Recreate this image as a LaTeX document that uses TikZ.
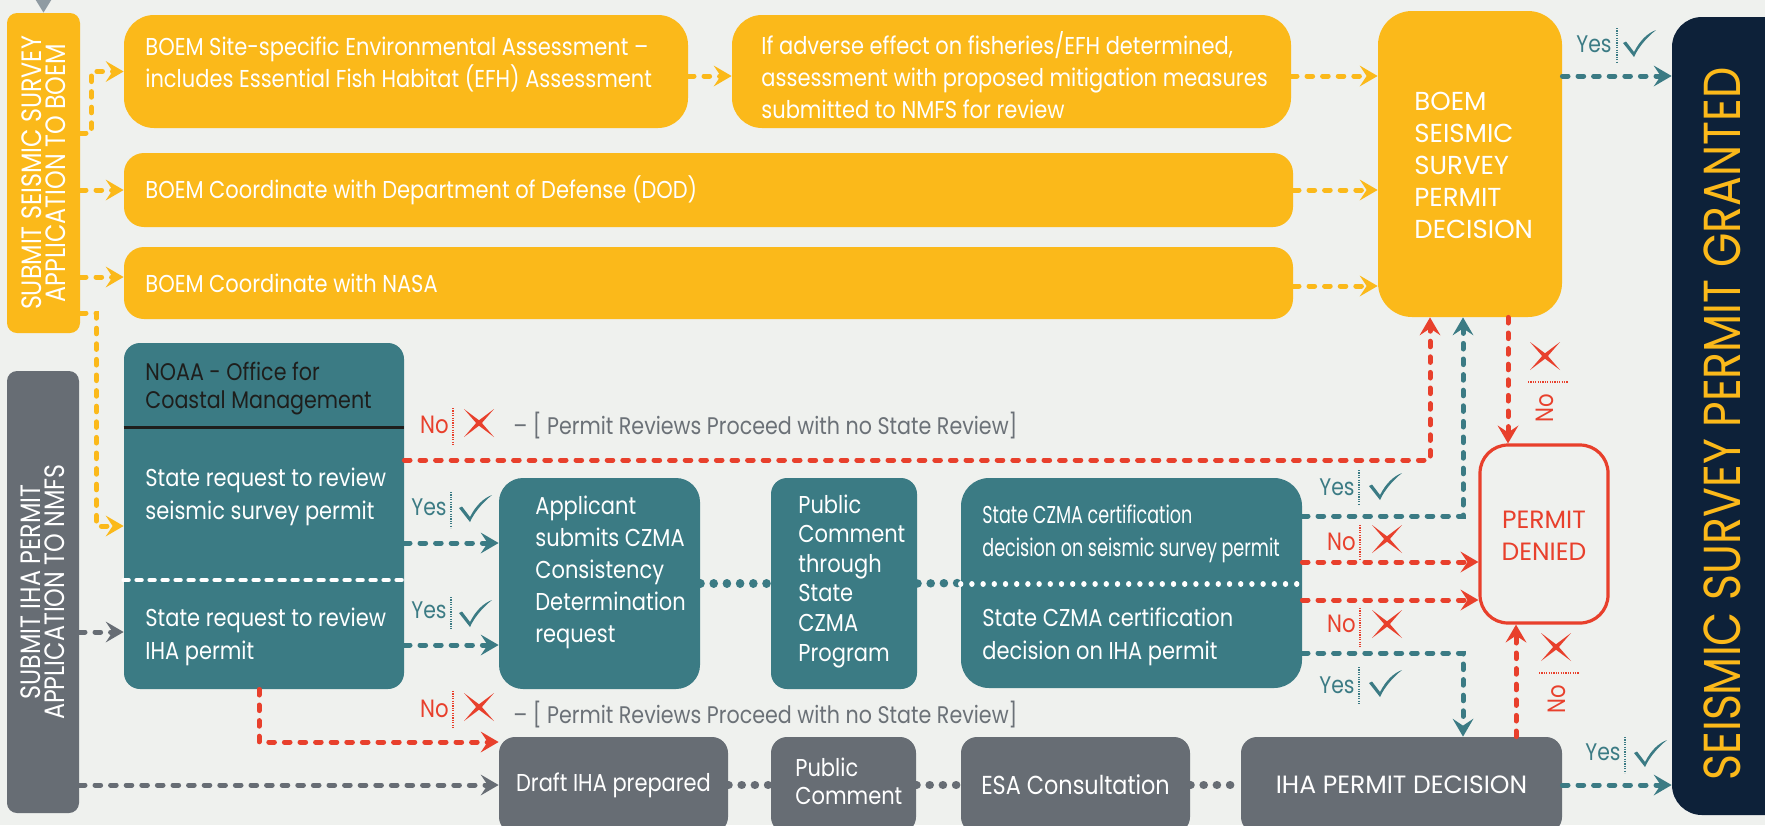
\documentclass[tikz,border=0pt]{standalone}
\usepackage{fontspec}
\setmainfont{Poppins}[FakeStretch=0.86]
\newfontfamily\narrowfont{Poppins}[FakeStretch=0.72]
\newfontfamily\capsfont{Poppins}[FakeStretch=0.85]
\newfontfamily\widefont{Poppins}
\usetikzlibrary{calc}
\usetikzlibrary{fit}
\usetikzlibrary{arrows.meta}

\definecolor{bgcol}{HTML}{EFF1EE}
\definecolor{boemor}{HTML}{FBB91A}
\definecolor{noaateal}{HTML}{3B7B84}
\definecolor{nmfsgray}{HTML}{676D74}
\definecolor{navy}{HTML}{0D2139}
\definecolor{denyred}{HTML}{E8402C}
\definecolor{tipgray}{HTML}{8F9BA2}
\definecolor{notegray}{HTML}{6B7177}
\definecolor{darktxt}{HTML}{1E1E1C}

\tikzset{
  box/.style={inner sep=0pt, draw=none},
  obox/.style={box, fill=boemor},
  tbox/.style={box, fill=noaateal},
  gbox/.style={box, fill=nmfsgray},
  btext/.style={text=white, align=left, inner sep=0pt, font=\fontsize{12.2}{16}\selectfont},
  vcaps/.style={text=white, align=center, inner sep=0pt, rotate=90, font=\capsfont\fontsize{14}{12}\selectfont},
  yeslbl/.style={text=noaateal, inner sep=0pt, font=\capsfont\fontsize{12}{12}\selectfont},
  nolbl/.style={text=denyred, inner sep=0pt, font=\capsfont\fontsize{12.5}{12}\selectfont},
  note/.style={text=notegray, inner sep=0pt, anchor=west, font=\fontsize{12}{14}\selectfont},
  link/.style={line width=2.5pt, dash pattern=on 2.8pt off 5pt, line cap=round},
  oarr/.style={link, boemor, ->},
  tarr/.style={link, noaateal, ->},
  rarr/.style={link, denyred, ->},
  garr/.style={link, nmfsgray, ->},
  dots/.style={line width=4.2pt, dash pattern=on 0.1pt off 6.5pt, line cap=round},
  sepline/.style={line width=0.6pt, dash pattern=on 0.6pt off 0.6pt},
  pics/chk/.style={code={
    \fill (-11,-14) -- (-8,-15.5) -- (0,-5) .. controls (6,-17) and (14,-24) .. (22,-27)
      .. controls (12,-19) and (4,-9) .. (0,0) -- cycle;}},
  pics/xmk/.style={code={
    \fill (-15,-14) -- (1.5,-1.6) -- (15,14) -- (-1.5,1.6) -- cycle;
    \fill (15,-14) -- (1.5,1.6) -- (-15,14) -- (-1.5,-1.6) -- cycle;}},
}

\begin{document}
\begin{tikzpicture}[x=0.5pt, y=-0.5pt,
  >={Stealth[length=9pt, width=10.5pt, inset=3.5pt, line width=0pt]}]
\useasboundingbox (0,0) rectangle (1765,825);
\clip (0,0) rectangle (1765,825);
\fill[bgcol] (0,0) rectangle (1765,825);

% BOEM side
\node[obox, rounded corners=5pt, fit={(7,13) (80,333)}] (subboem) {};
\node[vcaps] (subboemtxt) at (subboem) {SUBMIT SEISMIC SURVEY\\APPLICATION TO BOEM};
\node[obox, rounded corners=15pt, fit={(124,15) (688,128)}] (ea) {};
\node[btext, anchor=west] (eatxt) at (145,64) {BOEM Site-specific Environmental Assessment --\\includes Essential Fish Habitat (EFH) Assessment};
\node[obox, rounded corners=15pt, fit={(732,15) (1291,128)}] (adv) {};
\node[btext, anchor=west] (advtxt) at (761,75) {If adverse effect on fisheries/EFH determined,\\assessment with proposed mitigation measures\\submitted to NMFS for review};
\node[obox, rounded corners=10pt, fit={(124,153) (1293,227)}] (dod) {};
\node[btext, anchor=west] (dodtxt) at (145,190) {BOEM Coordinate with Department of Defense (DOD)};
\node[obox, rounded corners=10pt, fit={(124,247) (1293,319)}] (nasa) {};
\node[btext, anchor=west] (nasatxt) at (145,283) {BOEM Coordinate with NASA};
\node[obox, rounded corners=17pt, fit={(1378,11) (1562,317)}] (boemdec) {};
\node[btext, anchor=west, font=\widefont\fontsize{13}{16}\selectfont] (boemdectxt) at (1414,165) {BOEM\\SEISMIC\\SURVEY\\PERMIT\\DECISION};

% NMFS side
\node[gbox, rounded corners=5pt, fit={(7,371) (79,813)}] (subiha) {};
\node[vcaps] (subihatxt) at (subiha) {SUBMIT IHA PERMIT\\APPLICATION TO NMFS};
\node[tbox, rounded corners=8pt, fit={(124,343) (404,689)}] (noaa) {};
\node[btext, anchor=west, text=darktxt, font=\fontsize{12}{14}\selectfont] (noaahead) at (145,389) {NOAA - Office for\\Coastal Management};
\draw[darktxt, line width=1.5pt] (noaa.west |- 0,427) -- (noaa.east |- 0,427);
\node[btext, anchor=west, font=\fontsize{12.2}{16.5}\selectfont] (noaaseis) at (145,497) {State request to review\\seismic survey permit};
\draw[white, line width=2.2pt, dash pattern=on 2.5pt off 4pt, line cap=round] (noaa.west |- 0,580) -- (noaa.east |- 0,580);
\node[btext, anchor=west, font=\fontsize{12.2}{16.5}\selectfont] (noaaiha) at (145,637) {State request to review\\IHA permit};
\node[tbox, rounded corners=12pt, fit={(499,478) (700,689)}] (appl) {};
\node[btext, anchor=west] (appltxt) at (535,572) {Applicant\\submits CZMA\\Consistency\\Determination\\request};
\node[tbox, rounded corners=8pt, fit={(771,478) (917,689)}] (pubcz) {};
\node[btext, anchor=west, font=\fontsize{12.2}{14.8}\selectfont] (pubcztxt) at (798,581) {Public\\Comment\\through\\State\\CZMA\\Program};
\node[tbox, rounded corners=14pt, fit={(961,478) (1302,688)}] (czma) {};
\node[btext, anchor=west, font=\narrowfont\fontsize{12.2}{16.5}\selectfont] (czmaseis) at (982,534) {State CZMA certification\\decision on seismic survey permit};
\node[btext, anchor=west, font=\fontsize{12.2}{16.5}\selectfont] (czmaiha) at (982,637) {State CZMA certification\\decision on IHA permit};
\node[gbox, rounded corners=8pt, fit={(499,737) (728,833)}] (draft) {};
\node[btext] (drafttxt) at (draft) {Draft IHA prepared};
\node[gbox, rounded corners=8pt, fit={(771,737) (916,833)}] (pubc) {};
\node[btext, anchor=west, font=\fontsize{12.2}{14}\selectfont] (pubctxt) at (795,781) {Public\\Comment};
\node[gbox, rounded corners=8pt, fit={(961,737) (1190,833)}] (esa) {};
\node[btext, font=\fontsize{13}{14}\selectfont] (esatxt) at (esa) {ESA Consultation};
\node[gbox, rounded corners=8pt, fit={(1241,737) (1562,833)}] (ihadec) {};
\node[btext, font=\widefont\fontsize{12.5}{14}\selectfont] (ihadectxt) at (ihadec) {IHA PERMIT DECISION};

% outcomes
\node[box, draw=denyred, line width=1.6pt, rounded corners=14pt, fit={(1480,445) (1608,623)}] (denied) {};
\node[btext, text=denyred, align=center, font=\widefont\fontsize{12.5}{16}\selectfont] (deniedtxt) at (1544,536) {PERMIT\\DENIED};
\node[box, fill=navy, rounded corners=15pt, fit={(1672,17) (1800,815)}] (granted) {};
\node[text=boemor, inner sep=0pt, rotate=90, font=\capsfont\fontsize{26}{26}\selectfont] (grantedtxt) at (1722,424) {SEISMIC SURVEY PERMIT GRANTED};

% connectors
\coordinate (topin) at (43.5,-6);
\draw[tipgray, line width=1pt, -{Triangle[length=6.5pt, width=8pt, line width=0pt]}] (topin) -- (subboem.north);
\draw[oarr] (subboem.east |- 0,133) -- ++(11,0) |- (ea.west);
\draw[oarr] (subboem.east |- dod) -- (dod.west);
\draw[oarr] (subboem.east |- 0,277) -- (nasa.west |- 0,277);
\draw[oarr] (subboem.east |- 0,313) -- ++(16,0) |- (noaa.west |- 0,526);
\draw[oarr] (ea.east |- 0,76) -- (adv.west |- 0,76);
\draw[oarr] (adv.east |- 0,76) -- (boemdec.west |- 0,76);
\draw[oarr] (dod.east) -- (boemdec.west |- dod);
\draw[oarr] (nasa.east |- 0,286) -- (boemdec.west |- 0,286);

\draw[garr] (subiha.east |- 0,632) -- (noaa.west |- 0,632);
\draw[garr] (subiha.east |- draft) -- (draft.west);
\draw[dots, nmfsgray] (draft.east) -- (pubc.west);
\draw[dots, nmfsgray] (pubc.east) -- (esa.west);
\draw[dots, nmfsgray] (esa.east) -- (ihadec.west);

\draw[tarr] (noaa.east |- 0,543) -- (appl.west |- 0,543);
\draw[tarr] (noaa.east |- 0,645) -- (appl.west |- 0,645);
\draw[dots, noaateal] (appl.east) -- (pubcz.west);
\draw[dots, noaateal] (pubcz.east) -- (czma.west);
\draw[white, line width=2.6pt, dash pattern=on 0.1pt off 5.5pt, line cap=round] (czma.west |- 0,584) -- (czma.east |- 0,584);
\draw[tarr] (czma.east |- 0,516) -| ($(boemdec.south)+(-7,0)$);
\draw[tarr] (czma.east |- 0,653) -| ($(ihadec.north)+(61.5,0)$);
\draw[tarr] (boemdec.east |- 0,76) -- (granted.west |- 0,76);
\draw[tarr] (ihadec.east) -- (granted.west |- ihadec);

\draw[rarr] (noaa.east |- 0,460) -| ($(boemdec.south)+(-40,0)$);
\draw[rarr] (noaa.south -| 259,0) |- (draft.west |- 0,742);
\draw[rarr] (czma.east |- 0,562) -- (denied.west |- 0,562);
\draw[rarr] (czma.east |- 0,600) -- (denied.west |- 0,600);
\draw[rarr] ($(boemdec.south)+(38,0)$) -- ($(denied.north)+(-36,0)$);
\draw[rarr] ($(ihadec.north)+(114.5,0)$) -- ($(denied.south)+(-28,0)$);

% yes / no marks
\node[yeslbl, anchor=east] (yes1) at (1612,44) {Yes};
\draw[sepline, noaateal] (1617,28) -- (1617,63);
\pic[noaateal] at (1634,57) {chk};
\node[yeslbl, anchor=east] (yes2) at (447,507) {Yes};
\draw[sepline, noaateal] (451,492) -- (451,528);
\pic[noaateal] at (470,522) {chk};
\node[yeslbl, anchor=east] (yes3) at (447,610) {Yes};
\draw[sepline, noaateal] (451,597) -- (451,630);
\pic[noaateal] at (470,627) {chk};
\node[yeslbl, anchor=east] (yes4) at (1355,487) {Yes};
\draw[sepline, noaateal] (1359,470) -- (1359,505);
\pic[noaateal] at (1380,500) {chk};
\node[yeslbl, anchor=east] (yes5) at (1355,685) {Yes};
\draw[sepline, noaateal] (1359,667) -- (1359,705);
\pic[noaateal] at (1380,697) {chk};
\node[yeslbl, anchor=east] (yes6) at (1621,752) {Yes};
\draw[sepline, noaateal] (1625,737) -- (1625,773);
\pic[noaateal] at (1645,767) {chk};

\node[nolbl, anchor=east] (no1) at (449,425) {No};
\draw[sepline, denyred] (453,408) -- (453,445);
\pic[denyred] at (479,423) {xmk};
\node[note] (note1) at (513,426) {-- [ Permit Reviews Proceed with no State Review]};
\node[nolbl, anchor=east] (no2) at (449,709) {No};
\draw[sepline, denyred] (453,691) -- (453,729);
\pic[denyred] at (479,707) {xmk};
\node[note] (note2) at (513,715) {-- [ Permit Reviews Proceed with no State Review]};
\node[nolbl, anchor=east] (no3) at (1356,542) {No};
\draw[sepline, denyred] (1360,525) -- (1360,560);
\pic[denyred] at (1387,539) {xmk};
\node[nolbl, anchor=east] (no4) at (1356,624) {No};
\draw[sepline, denyred] (1360,608) -- (1360,647);
\pic[denyred] at (1387,624) {xmk};
\node[nolbl, rotate=90] (no5) at (1545,408) {No};
\draw[sepline, denyred] (1528,382) -- (1568,382);
\pic[denyred] at (1545,356) {xmk};
\node[nolbl, rotate=90] (no6) at (1557,699) {No};
\draw[sepline, denyred] (1539,673) -- (1579,673);
\pic[denyred] at (1556,647) {xmk};

\end{tikzpicture}
\end{document}
